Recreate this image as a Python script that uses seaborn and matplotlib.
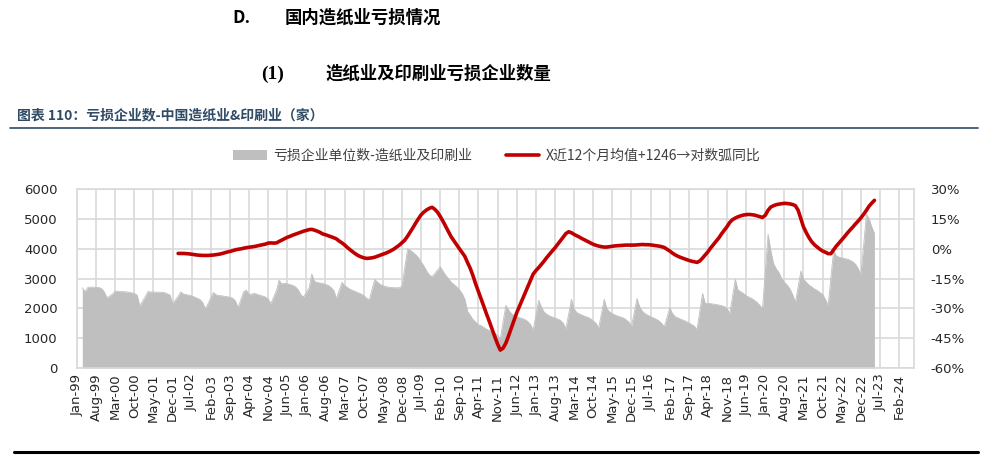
import numpy as np
import pandas as pd
import matplotlib
matplotlib.use("Agg")
import matplotlib.pyplot as plt
import matplotlib.dates as mdates
from matplotlib.ticker import FixedLocator, FuncFormatter
from matplotlib.lines import Line2D
from matplotlib.patches import Patch
from matplotlib.font_manager import FontProperties
import seaborn as sns

# ---------------- data ----------------
# 亏损企业单位数-造纸业及印刷业, monthly from Jan-1999 (January not reported -> None)
loss_start = "1999-01-01"
loss_count = [
    None, None, 2690, 2560, 2700, 2710, 2710, 2700, 2700, 2660, 2550, 2350,  # 1999
    None, 2480, 2575, 2570, 2560, 2560, 2550, 2540, 2520, 2500, 2440, 2080,  # 2000
    None, 2400, 2560, 2550, 2545, 2540, 2540, 2535, 2525, 2490, 2450, 2160,  # 2001
    None, 2400, 2550, 2480, 2460, 2440, 2420, 2380, 2340, 2300, 2200, 1980,  # 2002
    None, 2350, 2530, 2450, 2430, 2420, 2405, 2390, 2370, 2340, 2250, 2020,  # 2003
    None, 2560, 2610, 2460, 2480, 2500, 2470, 2440, 2410, 2380, 2300, 2160,  # 2004
    None, 2600, 2940, 2820, 2840, 2820, 2800, 2770, 2720, 2620, 2450, 2380,  # 2005
    None, 2700, 3150, 2900, 2870, 2850, 2830, 2800, 2770, 2700, 2600, 2330,  # 2006
    None, 2870, 2770, 2700, 2640, 2600, 2560, 2520, 2480, 2430, 2340, 2280,  # 2007
    None, 2970, 2880, 2800, 2760, 2730, 2710, 2700, 2690, 2690, 2690, 2750,  # 2008
    None, 4000, 3950, 3880, 3800, 3700, 3560, 3420, 3250, 3120, 3060, 3170,  # 2009
    None, 3390, 3250, 3110, 3000, 2880, 2800, 2720, 2620, 2500, 2300, 1900,  # 2010
    None, 1620, 1540, 1450, 1420, 1360, 1300, 1260, 1210, 1160, 1090, 985,   # 2011
    None, 2100, 1950, 1830, 1760, 1720, 1690, 1660, 1620, 1560, 1460, 1270,  # 2012
    None, 2270, 2050, 1880, 1800, 1750, 1710, 1680, 1640, 1600, 1500, 1320,  # 2013
    None, 2300, 1980, 1860, 1810, 1770, 1730, 1700, 1650, 1580, 1500, 1340,  # 2014
    None, 2300, 2000, 1880, 1820, 1780, 1740, 1710, 1680, 1620, 1540, 1380,  # 2015
    None, 2330, 2050, 1900, 1820, 1770, 1720, 1680, 1640, 1580, 1500, 1380,  # 2016
    None, 2020, 1830, 1720, 1680, 1640, 1600, 1560, 1510, 1460, 1400, 1300,  # 2017
    None, 2500, 2170, 2160, 2160, 2140, 2130, 2110, 2090, 2060, 1990, 1830,  # 2018
    None, 2970, 2620, 2560, 2500, 2420, 2380, 2330, 2270, 2200, 2100, 1990,  # 2019
    None, 4480, 3950, 3500, 3330, 3200, 3000, 2870, 2780, 2650, 2460, 2200,  # 2020
    None, 3250, 2980, 2880, 2780, 2720, 2650, 2600, 2530, 2460, 2300, 2100,  # 2021
    None, 3950, 3760, 3715, 3690, 3670, 3650, 3615, 3560, 3480, 3335, 3110,  # 2022
    None, 5150, 5010, 4730, 4510,                                            # 2023
]

# X近12个月均值+1246→对数弧同比 (%), monthly from Feb-2002
yoy_start = "2002-02-01"
yoy_pct = [
    -2.4, -2.4, -2.4, -2.5, -2.6, -2.8, -3.0, -3.2, -3.3, -3.4, -3.4,        # 2002
    -3.4, -3.3, -3.2, -3.0, -2.8, -2.5, -2.1, -1.7, -1.4, -1.0, -0.6, -0.3,  # 2003
    -0.1, 0.2, 0.5, 0.7, 0.9, 1.1, 1.4, 1.7, 2.0, 2.3, 2.8, 2.9,             # 2004
    2.8, 2.9, 3.6, 4.3, 5.0, 5.7, 6.2, 6.8, 7.3, 7.8, 8.3, 8.8,              # 2005
    9.2, 9.6, 9.7, 9.3, 8.8, 8.2, 7.4, 7.0, 6.5, 6.0, 5.5, 4.9,              # 2006
    3.8, 2.9, 1.9, 0.6, -0.5, -1.6, -2.6, -3.5, -4.1, -4.6, -4.9, -4.8,      # 2007
    -4.6, -4.3, -3.8, -3.3, -2.8, -2.3, -1.7, -1.0, -0.2, 0.8, 1.8, 3.0,     # 2008
    4.3, 6.3, 8.3, 10.5, 12.8, 15.0, 17.0, 18.4, 19.5, 20.3, 20.8, 19.8,     # 2009
    18.3, 16.1, 13.9, 11.2, 8.5, 6.0, 4.0, 2.0, 0.0, -2.0, -3.9, -7.0,       # 2010
    -10.0, -13.8, -17.7, -21.5, -25.3, -29.1, -32.9, -36.6, -40.5, -44.3, -48.0, -51.0,  # 2011
    -50.0, -47.5, -44.0, -40.0, -36.0, -32.2, -29.0, -25.7, -22.4, -19.1, -16.0, -12.8,  # 2012
    -11.0, -9.5, -8.0, -6.3, -4.5, -2.8, -1.2, 0.4, 2.2, 4.0, 5.8, 7.6,      # 2013
    8.5, 8.0, 7.2, 6.5, 5.8, 5.0, 4.3, 3.6, 2.9, 2.2, 1.7, 1.3,              # 2014
    1.0, 0.8, 0.8, 1.0, 1.2, 1.4, 1.5, 1.6, 1.7, 1.8, 1.8, 1.8,              # 2015
    1.8, 1.9, 2.0, 2.1, 2.0, 2.0, 1.9, 1.7, 1.5, 1.3, 1.0, 0.6,              # 2016
    -0.3, -1.2, -2.2, -3.1, -3.8, -4.4, -4.9, -5.4, -5.9, -6.3, -6.6, -6.9,  # 2017
    -6.2, -4.7, -3.2, -1.6, 0.3, 2.0, 3.7, 5.4, 7.5, 9.3, 11.1, 13.2,        # 2018
    14.6, 15.4, 16.0, 16.5, 16.9, 17.1, 17.2, 17.1, 16.9, 16.5, 16.1, 15.7,  # 2019
    16.8, 19.3, 20.9, 21.6, 22.1, 22.4, 22.6, 22.8, 22.7, 22.5, 22.2, 21.6,  # 2020
    19.3, 14.9, 11.0, 8.1, 5.6, 3.5, 2.0, 0.8, -0.3, -1.2, -1.8, -2.5,       # 2021
    -2.5, -0.5, 1.2, 2.8, 4.3, 6.0, 7.7, 9.3, 10.8, 12.4, 13.9, 15.5,        # 2022
    17.3, 19.3, 21.3, 22.9, 24.3,                                            # 2023
]

left_ticks = [0, 1000, 2000, 3000, 4000, 5000, 6000]
right_ticks = [-60, -45, -30, -15, 0, 15, 30]
xtick_start, xtick_end, xtick_step = "1999-01-01", "2024-02-01", "7MS"

legend_grey = "亏损企业单位数-造纸业及印刷业"
legend_red = "X近12个月均值+1246→对数弧同比"

# ---------------- frames ----------------
df_loss = pd.DataFrame({
    "date": pd.date_range(loss_start, periods=len(loss_count), freq="MS"),
    "value": pd.Series(loss_count, dtype="float"),
}).dropna()
df_yoy = pd.DataFrame({
    "date": pd.date_range(yoy_start, periods=len(yoy_pct), freq="MS"),
    "value": yoy_pct,
})

# ---------------- style ----------------
sns.set_theme(style="white")
plt.rcParams["font.family"] = ["DejaVu Sans", "Noto Sans CJK SC"]
CJK = ["Noto Sans CJK SC", "DejaVu Sans"]
W, H = 989, 458

fig = plt.figure(figsize=(W / 100, H / 100), dpi=100)
ax = fig.add_axes([77 / W, 1 - 368 / H, (914 - 77) / W, (368 - 189) / H])

grid_c = "#D9D9D9"
grey_c = "#BFBFBF"
red_c = "#C00000"
tick_c = "#262626"

# grey area (left axis)
ax.fill_between(df_loss["date"], df_loss["value"], 0, color=grey_c, lw=0, zorder=2)
sns.lineplot(data=df_loss, x="date", y="value", ax=ax, color=grey_c, lw=0.6, zorder=2)

ax.set_ylim(0, 6000)
ax.yaxis.set_major_locator(FixedLocator(left_ticks))
xt = [mdates.date2num(d) for d in pd.date_range(xtick_start, xtick_end, freq=xtick_step)]
ax.xaxis.set_major_locator(FixedLocator(xt))
ax.xaxis.set_major_formatter(mdates.DateFormatter("%b-%y"))
ax.set_xlim(mdates.date2num(pd.Timestamp("1999-01-01")), mdates.date2num(pd.Timestamp("2024-07-15")))
ax.grid(True, color=grid_c, lw=1.2)
ax.set_axisbelow(True)
ax.set_xlabel("")
ax.set_ylabel("")
for s in ax.spines.values():
    s.set_color(grid_c)
    s.set_linewidth(1.2)
ax.tick_params(axis="x", labelrotation=90, labelsize=9.5, colors=tick_c, length=0, pad=4)
ax.tick_params(axis="y", labelsize=9.5, colors=tick_c, length=0, pad=14)

# red line (right axis)
ax2 = ax.twinx()
sns.lineplot(data=df_yoy, x="date", y="value", ax=ax2, color=red_c, lw=2.6, zorder=5)
ax2.set_ylim(-60, 30)
ax2.yaxis.set_major_locator(FixedLocator(right_ticks))
ax2.yaxis.set_major_formatter(FuncFormatter(lambda v, p: f"{v:.0f}%"))
ax2.set_ylabel("")
ax2.grid(False)
for s in ax2.spines.values():
    s.set_visible(False)
ax2.tick_params(axis="y", labelsize=9.5, colors=tick_c, length=0, pad=12)
ax2.set_xlim(ax.get_xlim())

# legend
handles = [Patch(facecolor=grey_c, edgecolor="none"),
           Line2D([0], [0], color=red_c, lw=2.6)]
fig.legend(handles, [legend_grey, legend_red], loc="center",
           bbox_to_anchor=(497 / W, 1 - 156 / H), ncol=2, frameon=False,
           prop=FontProperties(family=CJK, size=10), handlelength=2.4,
           handleheight=0.8, columnspacing=2.4, handletextpad=0.5,
           labelcolor="#404040")

# headings
fig.text(232 / W, 1 - 18 / H, "D.", fontsize=12.5, fontweight="bold", family=CJK,
         ha="left", va="center", color="black")
fig.text(285 / W, 1 - 18 / H, "国内造纸业亏损情况", fontsize=12.5, fontweight="bold",
         family=CJK, ha="left", va="center", color="black")
fig.text(261 / W, 1 - 74 / H, "(1)", fontsize=14, fontweight="bold",
         family=["Liberation Serif", "DejaVu Serif"], ha="left", va="center", color="black")
fig.text(325 / W, 1 - 74 / H, "造纸业及印刷业亏损企业数量", fontsize=12.5, fontweight="bold",
         family=CJK, ha="left", va="center", color="black")
fig.text(17 / W, 1 - 115 / H, "图表 110：亏损企业数-中国造纸业&印刷业（家）", fontsize=10,
         fontweight="bold", family=CJK, ha="left", va="center", color="#2F4B66")

fig.add_artist(Line2D([10 / W, 978 / W], [1 - 128 / H, 1 - 128 / H], color="#2F4B66", lw=1.2))
fig.add_artist(Line2D([14 / W, 978 / W], [1 - 452 / H, 1 - 452 / H], color="black", lw=2.2))

fig.savefig("out.png", dpi=100)
